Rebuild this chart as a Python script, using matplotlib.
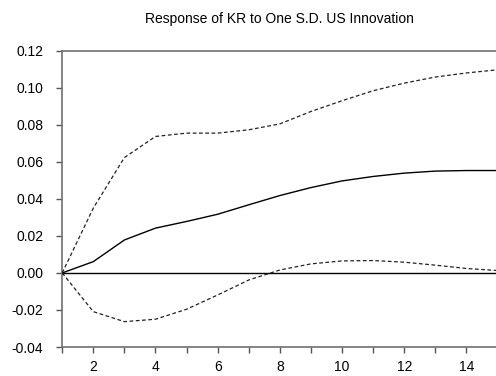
import matplotlib
matplotlib.use("Agg")
import matplotlib.pyplot as plt

periods = list(range(1, 16))
response = [0.0, 0.0061, 0.0178, 0.0242, 0.0278, 0.0317, 0.0368, 0.0418, 0.0461,
            0.0497, 0.0521, 0.0539, 0.0550, 0.0553, 0.0553]
upper = [0.0, 0.0350, 0.0623, 0.0737, 0.0755, 0.0755, 0.0773, 0.0805, 0.0872,
         0.0930, 0.0984, 0.1025, 0.1058, 0.1080, 0.1097]
lower = [0.0, -0.0209, -0.0263, -0.0250, -0.0196, -0.0119, -0.0038, 0.0016, 0.0049,
         0.0065, 0.0067, 0.0058, 0.0042, 0.0024, 0.0013]
yticks = [-0.04, -0.02, 0.00, 0.02, 0.04, 0.06, 0.08, 0.10, 0.12]
title = "Response of KR to One S.D. US Innovation"

plt.rcParams['font.family'] = ['Liberation Sans', 'DejaVu Sans']

fig = plt.figure(figsize=(4.96, 3.76), dpi=100)
ax = fig.add_axes([0.1254, 0.0771, 0.8778, 0.788])

ax.axhline(0, color='black', lw=1.0, zorder=1)
ax.plot(periods, response, color='black', lw=1.0, zorder=3)
ax.plot(periods, upper, color='#222222', lw=0.9, dashes=(3, 2), zorder=3)
ax.plot(periods, lower, color='#222222', lw=0.9, dashes=(3, 2), zorder=3)

ax.set_xlim(1, 15)
ax.set_ylim(-0.04, 0.12)
ax.set_yticks(yticks)
ax.set_yticklabels([f"{v:.2f}" for v in yticks])
ax.set_xticks(periods)
ax.set_xticklabels(["" if p % 2 else str(p) for p in periods])

for s in ['left', 'top', 'bottom']:
    ax.spines[s].set_color('#707070')
    ax.spines[s].set_linewidth(1.2)
ax.spines['right'].set_visible(False)

ax.tick_params(axis='both', direction='out', length=4.5, width=1.0, color='#555555',
               labelsize=10, labelcolor='black')
ax.tick_params(axis='y', pad=9)
ax.tick_params(axis='x', pad=4.5)

ax.set_title(title, fontsize=10, pad=20)

fig.savefig("out.png", dpi=100)
